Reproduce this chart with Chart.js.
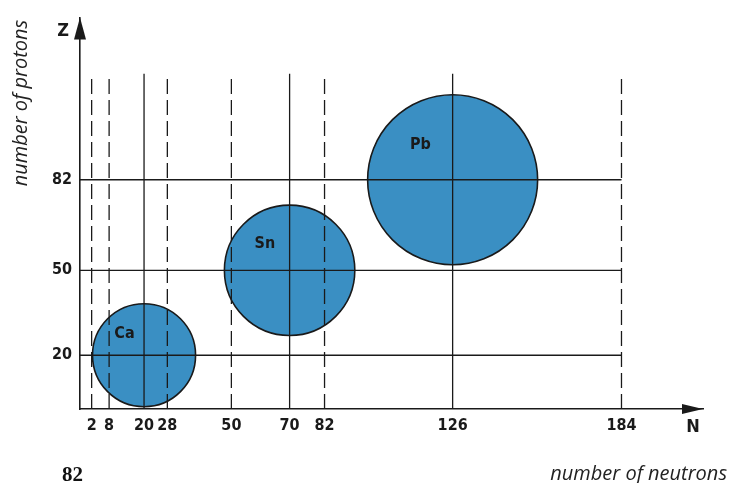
<!DOCTYPE html>
<html>
<head>
<meta charset="utf-8">
<script src="https://cdn.jsdelivr.net/npm/chart.js@4"></script>
<style>
  html, body { margin: 0; padding: 0; background: #fff; }
  #wrap { width: 729px; height: 483px; position: relative; }
</style>
</head>
<body>
<div id="wrap"><canvas id="chart"></canvas></div>
<script>
// magic numbers of neutrons (N) and protons (Z)
const neutronMagic = [2, 8, 20, 28, 50, 70, 82, 126, 184];
const neutronSolid = [20, 70, 126];
const protonMagic = [20, 50, 82];

// doubly magic nuclei
const nuclei = ['Ca', 'Sn', 'Pb'];
const nucleiN = [20, 70, 126];
const nucleiZ = [20, 50, 82];
const nucleiRadius = [17.7, 22.4, 29.2];   // in N units

const lineTopZ = 119.5;
const lineRightN = 184;

const ink = '#1a1a1a';
const narrow = '"Liberation Sans Narrow", "DejaVu Sans Condensed", sans-serif';

const datasets = [];

neutronMagic.forEach(function (n) {
    datasets.push({
        type: 'line',
        data: [{x: n, y: 1}, {x: n, y: lineTopZ}],
        borderColor: ink,
        borderWidth: 1.3,
        borderDash: neutronSolid.includes(n) ? [] : [15, 6],
        pointRadius: 0,
        order: 0
    });
});

protonMagic.forEach(function (z) {
    datasets.push({
        type: 'line',
        data: [{x: -2, y: z}, {x: lineRightN, y: z}],
        borderColor: ink,
        borderWidth: 1.3,
        pointRadius: 0,
        order: 0
    });
});

datasets.push({
    type: 'scatter',
    data: nuclei.map(function (name, i) {
        return {x: nucleiN[i], y: nucleiZ[i], size: nucleiRadius[i]};
    }),
    pointBackgroundColor: '#3a8fc3',
    pointBorderColor: ink,
    pointBorderWidth: 1.6,
    pointRadius: function (ctx) {
        const xs = ctx.chart.scales.x;
        const p = ctx.raw;
        if (!xs || !p || !p.size) return 0;
        return xs.getPixelForValue(p.x + p.size) - xs.getPixelForValue(p.x);
    },
    order: 1
});

const extras = {
    id: 'extras',
    afterDatasetsDraw: function (chart) {
        const c = chart.ctx;
        const a = chart.chartArea;
        c.save();
        c.fillStyle = ink;
        // arrow heads
        c.beginPath();
        c.moveTo(a.right, a.bottom);
        c.lineTo(a.right - 21, a.bottom - 5);
        c.lineTo(a.right - 21, a.bottom + 5);
        c.closePath();
        c.fill();
        c.beginPath();
        c.moveTo(a.left, a.top);
        c.lineTo(a.left - 6, a.top + 22);
        c.lineTo(a.left + 6, a.top + 22);
        c.closePath();
        c.fill();

        // nucleus labels
        const meta = chart.getDatasetMeta(chart.data.datasets.length - 1);
        c.font = 'bold 16px ' + narrow;
        c.textAlign = 'center';
        c.textBaseline = 'middle';
        meta.data.forEach(function (el, i) {
            const r = el.options.radius;
            c.fillText(nuclei[i], el.x - 0.38 * r, el.y - 0.41 * r);
        });

        // axis letters
        c.font = 'bold 18px ' + narrow;
        c.fillText('Z', 63, 31);
        c.fillText('N', 693, 427);

        // axis titles
        c.font = 'italic 20px "Open Sans", sans-serif';
        c.fillStyle = '#222';
        c.textBaseline = 'alphabetic';
        c.textAlign = 'right';
        c.fillText('number of neutrons', 727, 480);
        c.save();
        c.translate(27, 103);
        c.rotate(-Math.PI / 2);
        c.textAlign = 'center';
        c.fillText('number of protons', 0, 0);
        c.restore();

        // page number
        c.font = 'bold 21px "Liberation Serif", serif';
        c.fillStyle = '#111';
        c.textAlign = 'left';
        c.fillText('82', 62, 481);
        c.restore();
    }
};

new Chart(document.getElementById('chart'), {
    type: 'scatter',
    data: {datasets: datasets},
    options: {
        responsive: true,
        maintainAspectRatio: false,
        animation: false,
        events: [],
        layout: {padding: {top: 13, right: 26, left: 0, bottom: 0}},
        plugins: {
            legend: {display: false},
            tooltip: {enabled: false}
        },
        scales: {
            x: {
                type: 'linear',
                min: -2,
                max: 212,
                grid: {display: false, drawTicks: false, tickLength: 0},
                border: {color: ink, width: 1.6},
                afterBuildTicks: function (scale) {
                    scale.ticks = neutronMagic.map(function (v) { return {value: v}; });
                },
                afterFit: function (scale) { scale.height = 74; },
                ticks: {
                    autoSkip: false,
                    maxRotation: 0,
                    padding: 7,
                    color: '#1a1a1a',
                    font: {family: narrow, size: 16, weight: 'bold'}
                }
            },
            y: {
                type: 'linear',
                min: 1,
                max: 139.3,
                grid: {display: false, drawTicks: false, tickLength: 0},
                border: {color: ink, width: 1.6},
                afterBuildTicks: function (scale) {
                    scale.ticks = protonMagic.map(function (v) { return {value: v}; });
                },
                afterFit: function (scale) { scale.width = 80; },
                ticks: {
                    autoSkip: false,
                    padding: 8,
                    color: '#1a1a1a',
                    font: {family: narrow, size: 16, weight: 'bold'}
                }
            }
        }
    },
    plugins: [extras]
});
</script>
</body>
</html>
